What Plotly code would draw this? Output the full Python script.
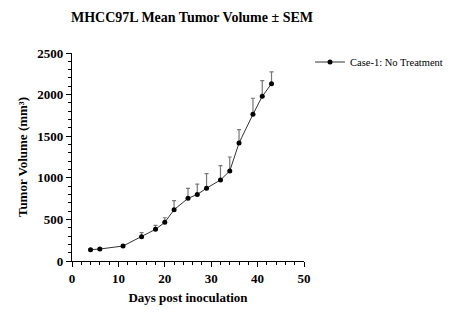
import plotly.graph_objects as go

days = [4, 6, 11, 15, 18, 20, 22, 25, 27, 29, 32, 34, 36, 39, 41, 43]
mean_vol = [136, 144, 180, 292, 381, 465, 617, 753, 800, 875, 974, 1082, 1418, 1763, 1979, 2131]
sem_vol = [10, 10, 12, 48, 48, 55, 108, 120, 125, 175, 172, 168, 160, 193, 188, 141]
zeros = [0] * len(days)
x_ticks = [0, 10, 20, 30, 40, 50]
y_ticks = [0, 500, 1000, 1500, 2000, 2500]

FONT = "Liberation Serif, Times New Roman, serif"

fig = go.Figure()
fig.add_trace(go.Scatter(
    x=days, y=mean_vol, mode="lines+markers",
    name="Case-1: No Treatment",
    line=dict(color="#333333", width=1),
    marker=dict(color="black", size=5, symbol="circle"),
    error_y=dict(type="data", array=sem_vol, arrayminus=zeros, symmetric=False,
                 color="#777777", thickness=1.2, width=2),
))

fig.update_layout(
    width=455, height=325,
    margin=dict(l=72, r=151, t=53, b=64, autoexpand=False),
    paper_bgcolor="white", plot_bgcolor="white",
    font=dict(family=FONT, color="black", size=12),
    title=dict(text="<b>MHCC97L Mean Tumor Volume ± SEM</b>", x=192 / 455, xanchor="center",
               xref="container", y=1 - 17 / 325, yanchor="middle",
               font=dict(family=FONT, size=14, color="black")),
    showlegend=True,
    legend=dict(xref="container", yref="container", x=310 / 455, y=1 - 62 / 325,
                xanchor="left", yanchor="middle",
                font=dict(family=FONT, size=10.5, color="black"), bgcolor="rgba(0,0,0,0)",
                itemwidth=30),
)

fig.update_xaxes(
    range=[0, 50], tickvals=x_ticks, ticktext=[f"<b>{v}</b>" for v in x_ticks],
    showline=True, linecolor="black", linewidth=1.3, ticks="outside", ticklen=5, tickwidth=1.3,
    tickcolor="black", showgrid=False, zeroline=False,
    tickfont=dict(family=FONT, size=13, color="black"),
    minor=dict(dtick=2, ticks="outside", ticklen=3, tickcolor="black", tickwidth=1, showgrid=False),
    title=dict(text="<b>Days post inoculation</b>", font=dict(family=FONT, size=13, color="black"), standoff=8),
)
fig.update_yaxes(
    range=[0, 2500], tickvals=y_ticks, ticktext=[f"<b>{v}</b>" for v in y_ticks],
    showline=True, linecolor="black", linewidth=1.3, ticks="outside", ticklen=5, tickwidth=1.3,
    tickcolor="black", showgrid=False, zeroline=False,
    tickfont=dict(family=FONT, size=13, color="black"),
    minor=dict(dtick=100, ticks="outside", ticklen=3, tickcolor="black", tickwidth=1, showgrid=False),
    title=dict(text="<b>Tumor Volume (mm³)</b>", font=dict(family=FONT, size=13, color="black"), standoff=6),
)

fig.write_html("out.html")
